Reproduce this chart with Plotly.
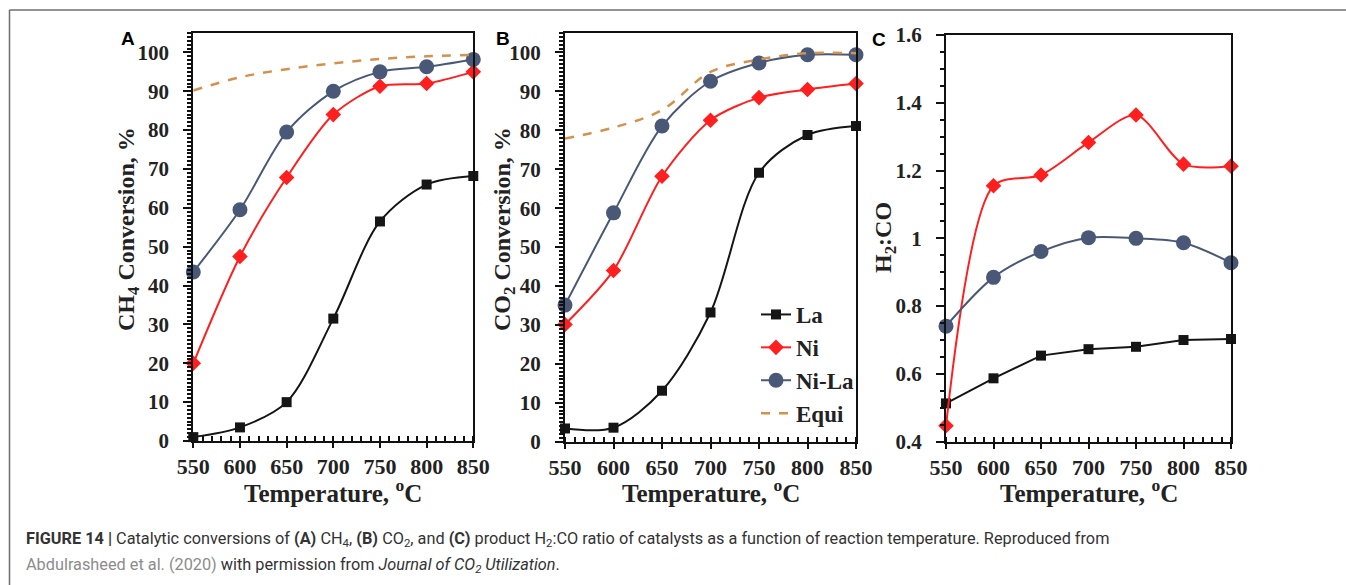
import plotly.graph_objects as go

# ---------------- data ----------------
temps = [550, 600, 650, 700, 750, 800, 850]

ch4_la = [1.0, 3.5, 10.0, 31.5, 56.5, 66.0, 68.2]
ch4_ni = [20.0, 47.5, 67.8, 84.0, 91.3, 92.0, 95.0]
ch4_nila = [43.5, 59.5, 79.5, 90.0, 95.0, 96.3, 98.2]
ch4_equi = [90.2, 93.6, 95.7, 97.2, 98.3, 99.0, 99.4]

co2_la = [3.4, 3.6, 13.1, 33.2, 69.1, 78.8, 81.1]
co2_ni = [30.1, 44.0, 68.2, 82.6, 88.4, 90.5, 92.0]
co2_nila = [35.1, 58.8, 81.1, 92.6, 97.3, 99.4, 99.4]
co2_equi = [77.9, 80.7, 85.2, 95.0, 98.2, 99.8, 99.8]

h2co_la = [0.513, 0.587, 0.654, 0.673, 0.680, 0.700, 0.703]
h2co_ni = [0.447, 1.155, 1.187, 1.283, 1.364, 1.219, 1.213]
h2co_nila = [0.741, 0.885, 0.961, 1.002, 1.000, 0.987, 0.928]

x_ticks = [550, 600, 650, 700, 750, 800, 850]
conv_ticks = [0, 10, 20, 30, 40, 50, 60, 70, 80, 90, 100]
ratio_ticks = [0.4, 0.6, 0.8, 1.0, 1.2, 1.4, 1.6]
ratio_ticktext = ["0.4", "0.6", "0.8", "1", "1.2", "1.4", "1.6"]

series_names = ["La", "Ni", "Ni-La", "Equi"]
x_title = "Temperature, <sup>o</sup>C"
y_titles = ["CH<sub>4</sub> Conversion, %", "CO<sub>2</sub> Conversion, %", "H<sub>2</sub>:CO"]

# ---------------- style ----------------
W, H = 1346, 585
SERIF = "Liberation Serif, Times New Roman, serif"
C_LA = "#151515"
C_NI = "#ff1f1f"
C_NILA = "#4a5878"
C_EQ = "#d4914c"


def xd(a, b):
    return [a / W, b / W]


def yd(top, bottom):
    return [1 - bottom / H, 1 - top / H]


fig = go.Figure()


def add_panel(xa, ya, la, ni, nila, equi, legend, la_shape="spline"):
    fig.add_trace(go.Scatter(
        x=temps, y=la, name=series_names[0], xaxis=xa, yaxis=ya,
        mode="lines+markers", line=dict(color=C_LA, width=2, shape=la_shape, smoothing=0.9),
        marker=dict(symbol="square", size=10, color=C_LA),
        showlegend=legend, cliponaxis=False, legendrank=1))
    fig.add_trace(go.Scatter(
        x=temps, y=ni, name=series_names[1], xaxis=xa, yaxis=ya,
        mode="lines+markers", line=dict(color=C_NI, width=2, shape="spline", smoothing=0.8),
        marker=dict(symbol="diamond", size=12, color=C_NI),
        showlegend=legend, cliponaxis=False, legendrank=2))
    fig.add_trace(go.Scatter(
        x=temps, y=nila, name=series_names[2], xaxis=xa, yaxis=ya,
        mode="lines+markers", line=dict(color=C_NILA, width=2, shape="spline", smoothing=0.9),
        marker=dict(symbol="circle", size=15, color=C_NILA),
        showlegend=legend, cliponaxis=False, legendrank=3))
    if equi is not None:
        fig.add_trace(go.Scatter(
            x=temps, y=equi, name=series_names[3], xaxis=xa, yaxis=ya,
            mode="lines", line=dict(color=C_EQ, width=2.5, dash="dash", shape="spline", smoothing=1.0),
            showlegend=legend, cliponaxis=False, legendrank=4))


add_panel("x", "y", ch4_la, ch4_ni, ch4_nila, ch4_equi, False)
add_panel("x2", "y2", co2_la, co2_ni, co2_nila, co2_equi, True)
add_panel("x3", "y3", h2co_la, h2co_ni, h2co_nila, None, False, la_shape="linear")

xtickfont = dict(family=SERIF, size=22, color="#222", weight="bold")
ytickfont = dict(family=SERIF, size=21, color="#222", weight="bold")
xtitlefont = dict(family=SERIF, size=25, color="#222", weight="bold")
ytitlefont = dict(family=SERIF, size=24, color="#222", weight="bold")


def xaxis_cfg(domain, anchor):
    return dict(
        domain=domain, anchor=anchor, range=[550, 850], tickvals=x_ticks,
        showline=True, linecolor="#111", linewidth=2, mirror=True,
        ticks="outside", ticklen=5, tickwidth=2, tickcolor="#111",
        minor=dict(dtick=10, ticks="inside", ticklen=5, tickwidth=1.5, tickcolor="#111"),
        showgrid=False, zeroline=False, tickfont=xtickfont, automargin=False,
    )


def yaxis_cfg(domain, anchor, rng, tickvals, ticktext, minor_dtick):
    return dict(
        domain=domain, anchor=anchor, range=rng, tickvals=tickvals, ticktext=ticktext,
        showline=True, linecolor="#111", linewidth=2, mirror=True,
        ticks="outside", ticklen=8, tickwidth=2, tickcolor="#111",
        minor=dict(dtick=minor_dtick, ticks="outside", ticklen=4, tickwidth=1.5, tickcolor="#111"),
        showgrid=False, zeroline=False, tickfont=ytickfont, ticklabelstandoff=10, automargin=False,
    )


fig.update_layout(
    template="none",
    width=W, height=H,
    margin=dict(l=0, r=0, t=0, b=0, pad=0, autoexpand=False),
    paper_bgcolor="white", plot_bgcolor="white",
    xaxis=xaxis_cfg(xd(193.3, 473.3), "y"),
    yaxis=yaxis_cfg(yd(33, 441), "x", [0, 105], conv_ticks, [str(v) for v in conv_ticks], 1),
    xaxis2=xaxis_cfg(xd(565, 856), "y2"),
    yaxis2=yaxis_cfg(yd(33, 441.7), "x2", [0, 105], conv_ticks, [str(v) for v in conv_ticks], 1),
    xaxis3=xaxis_cfg(xd(946, 1231), "y3"),
    yaxis3=yaxis_cfg(yd(35, 441.7), "x3", [0.4, 1.6], ratio_ticks, ratio_ticktext, 0.05),
    legend=dict(
        x=756 / W, y=1 - 293 / H, xanchor="left", yanchor="top",
        bgcolor="rgba(0,0,0,0)", borderwidth=0,
        font=dict(family=SERIF, size=23, color="#222", weight="bold"),
        itemwidth=30, traceorder="normal",
    ),
    showlegend=True,
)

# axis titles (as annotations for exact placement)
for cx in [333.3, 710.5, 1088.5]:
    fig.add_annotation(
        text=x_title, x=cx / W, y=1 - 491 / H, xref="paper", yref="paper",
        xanchor="center", yanchor="middle", showarrow=False, font=xtitlefont)
for title, cx, cy in zip(y_titles, [128, 504, 885], [229, 229, 238]):
    fig.add_annotation(
        text=title, x=cx / W, y=1 - cy / H, xref="paper", yref="paper", textangle=-90,
        xanchor="center", yanchor="middle", showarrow=False, font=ytitlefont)

# panel letters
for letter, px, py in [("A", 127.5, 39), ("B", 503, 39), ("C", 879, 40)]:
    fig.add_annotation(
        text=letter, x=px / W, y=1 - py / H, xref="paper", yref="paper",
        xanchor="center", yanchor="middle", showarrow=False,
        font=dict(family="Liberation Sans, Arial, sans-serif", size=19, color="#000", weight="bold"))

# caption
CAP = "Roboto, Liberation Sans, sans-serif"
fig.add_annotation(
    text=("<b>FIGURE 14 |</b> Catalytic conversions of <b>(A)</b> CH<sub>4</sub>, <b>(B)</b> CO<sub>2</sub>, "
          "and <b>(C)</b> product H<sub>2</sub>:CO ratio of catalysts as a function of reaction temperature. "
          "Reproduced from"),
    x=24 / W, y=1 - 539 / H, xref="paper", yref="paper", xanchor="left", yanchor="middle",
    showarrow=False, align="left", font=dict(family=CAP, size=16.3, color="#333"))
fig.add_annotation(
    text=("<span style='color:#8c8c8c'>Abdulrasheed et al. (2020)</span> with permission from "
          "<i>Journal of CO<sub>2</sub> Utilization</i>."),
    x=24 / W, y=1 - 565 / H, xref="paper", yref="paper", xanchor="left", yanchor="middle",
    showarrow=False, align="left", font=dict(family=CAP, size=16.3, color="#333"))

# figure frame (top and left border)
fig.add_shape(type="line", xref="paper", yref="paper", x0=9.5 / W, x1=1, y0=1 - 10 / H, y1=1 - 10 / H,
              line=dict(color="#6e6e6e", width=1.5))
fig.add_shape(type="line", xref="paper", yref="paper", x0=9.5 / W, x1=9.5 / W, y0=0, y1=1 - 10 / H,
              line=dict(color="#6e6e6e", width=1.5))

fig.write_html(
    "out.html",
    post_script="document.body.style.margin='0px';document.body.style.overflow='hidden';",
)
